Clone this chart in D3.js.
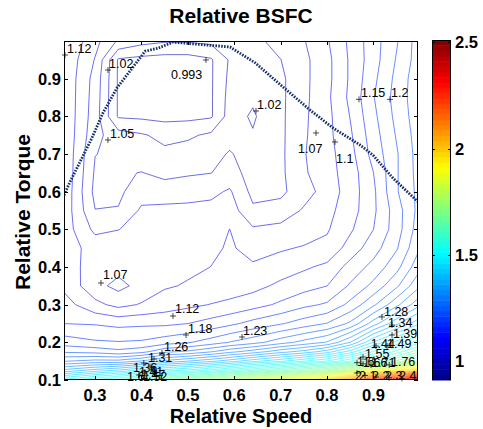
<!DOCTYPE html>
<html>
<head>
<meta charset="utf-8">
<script src="https://cdn.jsdelivr.net/npm/d3@7"></script>
<style>
  body { margin: 0; background: #fff; }
  svg { display: block; }
  text { font-family: "Liberation Sans", Arial, sans-serif; }
</style>
</head>
<body>
<div id="chart"></div>
<script>
// grid of the map: speed columns, torque rows (bottom to top)
const speeds = [0.233, 0.3, 0.35, 0.4, 0.45, 0.5, 0.55, 0.59, 0.64, 0.7, 0.75, 0.8, 0.85, 0.9, 0.95, 0.996];
const torques = [0.1, 0.125, 0.15, 0.175, 0.2, 0.25, 0.3, 0.35, 0.4, 0.45, 0.5, 0.55, 0.6, 0.65, 0.7, 0.75, 0.8, 0.85, 0.9, 0.95, 1.0];

// relative BSFC, one row per torque value, one entry per speed value
const bsfc = [
  [1.50, 1.55, 1.58, 1.62, 1.68, 1.72, 1.76, 1.80, 1.85, 1.90, 1.95, 2.00, 2.10, 2.25, 2.32, 2.45],
  [1.37, 1.40, 1.42, 1.45, 1.48, 1.50, 1.53, 1.56, 1.60, 1.64, 1.68, 1.72, 1.80, 1.90, 1.95, 2.00],
  [1.28, 1.29, 1.29, 1.31, 1.34, 1.36, 1.38, 1.40, 1.43, 1.46, 1.49, 1.52, 1.57, 1.61, 1.68, 1.75],
  [1.225, 1.22, 1.21, 1.22, 1.25, 1.26, 1.28, 1.30, 1.32, 1.35, 1.37, 1.40, 1.45, 1.52, 1.58, 1.64],
  [1.19, 1.18, 1.178, 1.18, 1.19, 1.20, 1.215, 1.23, 1.245, 1.27, 1.29, 1.31, 1.36, 1.44, 1.50, 1.56],
  [1.15, 1.148, 1.143, 1.145, 1.145, 1.15, 1.16, 1.17, 1.185, 1.20, 1.215, 1.23, 1.26, 1.32, 1.38, 1.43],
  [1.135, 1.105, 1.09, 1.10, 1.11, 1.118, 1.125, 1.13, 1.14, 1.155, 1.17, 1.18, 1.21, 1.25, 1.30, 1.35],
  [1.118, 1.08, 1.064, 1.08, 1.095, 1.10, 1.105, 1.11, 1.115, 1.13, 1.14, 1.15, 1.18, 1.21, 1.25, 1.30],
  [1.112, 1.085, 1.08, 1.085, 1.09, 1.093, 1.098, 1.104, 1.10, 1.11, 1.12, 1.13, 1.16, 1.185, 1.22, 1.27],
  [1.11, 1.088, 1.085, 1.088, 1.088, 1.09, 1.094, 1.10, 1.092, 1.095, 1.10, 1.105, 1.135, 1.165, 1.20, 1.25],
  [1.112, 1.065, 1.071, 1.08, 1.083, 1.085, 1.088, 1.098, 1.075, 1.08, 1.085, 1.095, 1.12, 1.15, 1.19, 1.24],
  [1.115, 1.046, 1.047, 1.076, 1.08, 1.078, 1.08, 1.085, 1.05, 1.055, 1.075, 1.09, 1.112, 1.145, 1.19, 1.235],
  [1.118, 1.038, 1.04, 1.06, 1.055, 1.062, 1.065, 1.075, 1.038, 1.04, 1.06, 1.083, 1.11, 1.145, 1.20, 1.235],
  [1.12, 1.042, 1.043, 1.046, 1.04, 1.042, 1.045, 1.055, 1.036, 1.04, 1.068, 1.088, 1.11, 1.15, 1.20, 1.237],
  [1.12, 1.046, 1.04, 1.035, 1.025, 1.03, 1.035, 1.048, 1.032, 1.04, 1.07, 1.088, 1.115, 1.16, 1.20, 1.238],
  [1.12, 1.054, 1.03, 1.022, 1.012, 1.015, 1.024, 1.035, 1.021, 1.04, 1.068, 1.09, 1.12, 1.165, 1.205, 1.24],
  [1.12, 1.058, 0.99, 0.988, 0.985, 0.986, 0.99, 1.03, 1.016, 1.04, 1.067, 1.09, 1.125, 1.17, 1.21, 1.243],
  [1.12, 1.06, 0.99, 0.984, 0.979, 0.98, 0.99, 1.028, 1.023, 1.04, 1.065, 1.092, 1.13, 1.175, 1.213, 1.245],
  [1.12, 1.062, 0.99, 0.983, 0.978, 0.978, 0.99, 1.025, 1.028, 1.04, 1.065, 1.09, 1.128, 1.17, 1.21, 1.245],
  [1.12, 1.07, 0.99, 0.985, 0.982, 0.982, 0.99, 1.022, 1.03, 1.045, 1.065, 1.09, 1.128, 1.165, 1.205, 1.24],
  [1.125, 1.08, 1.042, 1.028, 1.022, 1.022, 1.026, 1.03, 1.038, 1.055, 1.07, 1.095, 1.13, 1.165, 1.20, 1.24]
];

// contour levels
const levels = d3.range(0, 58).map(k => 0.993 + 0.0262 * k);

// maximum torque curve (dotted)
const maxTorqueSpeed = [0.233, 0.248, 0.293, 0.317, 0.347, 0.375, 0.408, 0.436, 0.468, 0.591, 0.645, 0.705, 0.763, 0.813, 0.871, 0.899, 0.942, 0.996];
const maxTorque = [0.591, 0.631, 0.742, 0.809, 0.875, 0.920, 0.973, 0.981, 0.997, 0.984, 0.942, 0.878, 0.817, 0.769, 0.724, 0.697, 0.636, 0.573];

// contour labels: text, marker point, text point (speed, torque)
const contourLabels = [
  ["1.12", 0.2352, 0.9628, 0.2395, 0.968],
  ["1.02", 0.3278, 0.923, 0.330, 0.928],
  ["0.993", 0.539, 0.9496, 0.4636, 0.9003],
  ["1.05", 0.3278, 0.7372, 0.3321, 0.7425],
  ["1.02", 0.6468, 0.8142, 0.649, 0.8195],
  ["1.15", 0.8688, 0.8451, 0.8731, 0.8504],
  ["1.2", 0.9357, 0.8451, 0.9378, 0.8504],
  ["1.07", 0.7762, 0.7558, 0.7374, 0.7027],
  ["1.1", 0.8171, 0.7319, 0.8193, 0.6761],
  ["1.07", 0.3127, 0.3575, 0.3171, 0.3681],
  ["1.12", 0.4679, 0.2699, 0.4722, 0.2779],
  ["1.18", 0.496, 0.2195, 0.5003, 0.2248],
  ["1.23", 0.6167, 0.2142, 0.6188, 0.2195],
  ["1.26", 0.4442, 0.1717, 0.4485, 0.177],
  ["1.31", 0.427, 0.1558, 0.414, 0.1478],
  ["1.36", 0.405, 0.145, 0.3817, 0.1212],
  ["1.41", 0.4205, 0.1345, 0.3946, 0.1106],
  ["1.47", 0.4248, 0.1265, 0.3989, 0.1027],
  ["1.52", 0.4291, 0.1186, 0.4032, 0.0973],
  ["1.6", 0.3946, 0.1133, 0.3688, 0.0973],
  ["1.28", 0.9184, 0.2673, 0.9227, 0.27],
  ["1.34", 0.94, 0.246, 0.9314, 0.2407],
  ["1.39", 0.94, 0.2195, 0.942, 0.2115],
  ["1.44", 0.9055, 0.1903, 0.8939, 0.185],
  ["1.49", 0.9292, 0.1903, 0.9292, 0.185],
  ["1.55", 0.8775, 0.161, 0.8818, 0.1584],
  ["1.6", 0.8645, 0.146, 0.8645, 0.1372],
  ["1.66", 0.8775, 0.143, 0.8775, 0.1345],
  ["1.71", 0.8947, 0.14, 0.8947, 0.1345],
  ["1.76", 0.934, 0.14, 0.9378, 0.1372],
  ["2", 0.8645, 0.1186, 0.8602, 0.1],
  ["2.1", 0.8818, 0.112, 0.8688, 0.1],
  ["2.2", 0.9055, 0.108, 0.8968, 0.1],
  ["2.3", 0.9335, 0.106, 0.9249, 0.1],
  ["2.4", 0.9615, 0.104, 0.9551, 0.1]
];

const xTicks = [0.3, 0.4, 0.5, 0.6, 0.7, 0.8, 0.9];
const yTicks = [0.1, 0.2, 0.3, 0.4, 0.5, 0.6, 0.7, 0.8, 0.9];
const barTicks = [1, 1.5, 2, 2.5];
const colorRange = [0.913, 2.51];

const width = 483, height = 429;
const svg = d3.select("#chart").append("svg").attr("width", width).attr("height", height);

const x = d3.scaleLinear().domain([speeds[0], speeds[speeds.length - 1]]).range([64, 418]);
const y = d3.scaleLinear().domain([0.1, 1.0]).range([380, 41]);

// MATLAB jet(64)
const nColors = 64;
const jetIndex = (v) => Math.max(0, Math.min(nColors - 1, Math.floor((v - colorRange[0]) / (colorRange[1] - colorRange[0]) * nColors)));
const jetColor = (i) => {
  const u = (i + 0.5) / nColors;
  const c = (f) => Math.round(255 * Math.max(0, Math.min(1, f)));
  return `rgb(${c(1.5 - Math.abs(4 * u - 3))},${c(1.5 - Math.abs(4 * u - 2))},${c(1.5 - Math.abs(4 * u - 1))})`;
};

svg.append("clipPath").attr("id", "plotclip")
  .append("rect").attr("x", 64).attr("y", 41).attr("width", 354).attr("height", 339);

// contours
const nx = speeds.length, ny = torques.length;
const contours = d3.contours().size([nx, ny]).thresholds(levels)(bsfc.flat());

const gridValue = (arr, g) => {
  g = Math.max(0, Math.min(arr.length - 1, g));
  const i = Math.min(arr.length - 2, Math.floor(g));
  return arr[i] + (g - i) * (arr[i + 1] - arr[i]);
};
const onEdge = (p) => p[0] <= 0 || p[0] >= nx || p[1] <= 0 || p[1] >= ny;
const px = (p) => x(gridValue(speeds, p[0] - 0.5));
const py = (p) => y(gridValue(torques, p[1] - 0.5));

const contourG = svg.append("g").attr("clip-path", "url(#plotclip)");
contours.forEach((c) => {
  const path = d3.path();
  c.coordinates.forEach((poly) => poly.forEach((ring) => {
    let pen = false;
    for (let k = 0; k < ring.length - 1; k++) {
      const a = ring[k], b = ring[k + 1];
      if (onEdge(a) || onEdge(b)) { pen = false; continue; }
      if (!pen) { path.moveTo(px(a), py(a)); pen = true; }
      path.lineTo(px(b), py(b));
    }
  }));
  contourG.append("path")
    .attr("d", path.toString())
    .attr("fill", "none")
    .attr("stroke", jetColor(jetIndex(c.value)))
    .attr("stroke-opacity", 0.72)
    .attr("stroke-width", 0.8);
});

// maximum torque curve
const line = d3.line().x((d) => x(d[0])).y((d) => y(d[1]));
contourG.append("path")
  .attr("d", line(d3.zip(maxTorqueSpeed, maxTorque)))
  .attr("fill", "none")
  .attr("stroke", "#14306b")
  .attr("stroke-width", 2.8)
  .attr("stroke-dasharray", "1.6,1.3");

// contour labels
const labelG = svg.append("g");
contourLabels.forEach(([txt, ms, mt, ts, tt]) => {
  const mx = x(ms), my = y(mt);
  labelG.append("path")
    .attr("d", `M${mx - 3},${my}H${mx + 3}M${mx},${my - 3}V${my + 3}`)
    .attr("stroke", "#000").attr("stroke-width", 0.7);
  labelG.append("text")
    .attr("x", x(ts)).attr("y", y(tt))
    .attr("font-size", 12.5)
    .attr("fill", "#000")
    .text(txt);
});

// axes box and ticks
const axG = svg.append("g").attr("stroke", "#000").attr("stroke-width", 1).attr("fill", "none");
axG.append("rect").attr("x", 64.5).attr("y", 41.5).attr("width", 353).attr("height", 338);
xTicks.forEach((v) => {
  const xv = Math.round(x(v)) + 0.5;
  axG.append("path").attr("d", `M${xv},380V376M${xv},41V45`);
});
yTicks.forEach((v) => {
  const yv = Math.round(y(v)) + 0.5;
  axG.append("path").attr("d", `M64,${yv}H68M418,${yv}H414`);
});

svg.append("g").selectAll("text").data(xTicks).join("text")
  .attr("x", (d) => x(d)).attr("y", 401)
  .attr("text-anchor", "middle")
  .attr("font-size", 16.5).attr("font-weight", "bold")
  .text((d) => d3.format(".1f")(d));

svg.append("g").selectAll("text").data(yTicks).join("text")
  .attr("x", 61).attr("y", (d) => y(d) + 6)
  .attr("text-anchor", "end")
  .attr("font-size", 16.5).attr("font-weight", "bold")
  .text((d) => d3.format(".1f")(d));

// colorbar
const cb = d3.scaleLinear().domain(colorRange).range([380, 40]);
const cbG = svg.append("g");
d3.range(nColors).forEach((i) => {
  const v0 = colorRange[0] + (i / nColors) * (colorRange[1] - colorRange[0]);
  const v1 = colorRange[0] + ((i + 1) / nColors) * (colorRange[1] - colorRange[0]);
  cbG.append("rect")
    .attr("x", 432).attr("width", 19)
    .attr("y", cb(v1)).attr("height", cb(v0) - cb(v1) + 0.5)
    .attr("fill", jetColor(i));
});
cbG.append("rect").attr("x", 432.5).attr("y", 40.5).attr("width", 18).attr("height", 339)
  .attr("fill", "none").attr("stroke", "#000").attr("stroke-width", 1);
barTicks.forEach((v) => {
  const yv = Math.round(cb(v)) + 0.5;
  cbG.append("path").attr("d", `M432,${yv}H435M451,${yv}H448`).attr("stroke", "#000");
  cbG.append("text").attr("x", 455).attr("y", cb(v) + 6)
    .attr("font-size", 16.5).attr("font-weight", "bold").text(v);
});

// titles
svg.append("text").attr("x", 241).attr("y", 23).attr("text-anchor", "middle")
  .attr("font-size", 21).attr("font-weight", "bold").text("Relative BSFC");
svg.append("text").attr("x", 241).attr("y", 423).attr("text-anchor", "middle")
  .attr("font-size", 20).attr("font-weight", "bold").text("Relative Speed");
svg.append("text").attr("transform", "translate(30,212) rotate(-90)").attr("text-anchor", "middle")
  .attr("font-size", 21).attr("font-weight", "bold").text("Relative Torque");
</script>
</body>
</html>
